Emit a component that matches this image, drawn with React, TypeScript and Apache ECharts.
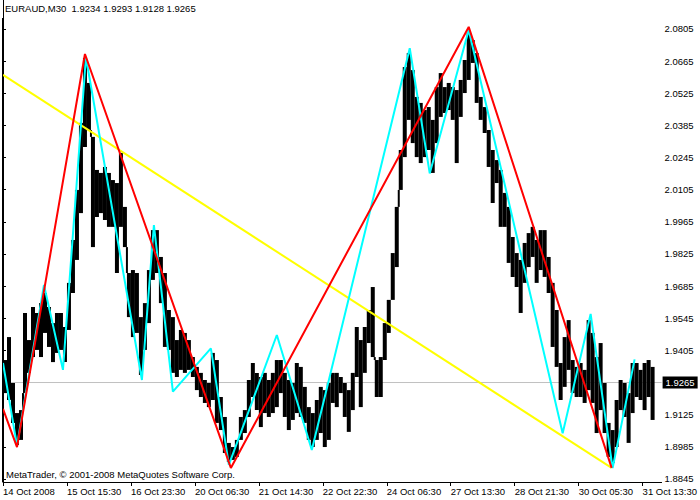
import React, { useEffect, useRef } from "react";
import * as echarts from "echarts";

// ---- data ----
const GROUP = 4; // M30 bars per drawn block
const barHigh = [
  1.9363, 1.9463, 1.9263, 1.9132, 1.9145, 1.9568, 1.945, 1.9594, 1.9568, 1.9611, 1.9655, 1.9594, 1.9524, 1.9568,
  1.9568, 1.9507, 1.9699, 1.9886, 2.0104, 2.0396, 2.0679, 2.057, 2.0335, 2.0191, 2.0178, 2.0204, 2.0178, 2.0147,
  2.0134, 2.0265, 2.003, 1.9742, 1.9755, 1.9742, 1.955, 1.9611, 1.9755, 1.9929, 1.9929, 1.9812, 1.9742, 1.9581,
  1.955, 1.945, 1.9494, 1.9481, 1.945, 1.9376, 1.9333, 1.9307, 1.9276, 1.9263, 1.9394, 1.9363, 1.9202, 1.9115,
  1.9002, 1.8984, 1.9015, 1.9115, 1.9145, 1.9276, 1.935, 1.9307, 1.9289, 1.9307, 1.9276, 1.9307, 1.9363, 1.9363,
  1.9307, 1.9276, 1.9263, 1.935, 1.9333, 1.9246, 1.9158, 1.9132, 1.9189, 1.9246, 1.9232, 1.9263,
  1.9307, 1.9307, 1.9289, 1.9263, 1.9232, 1.9307, 1.9507, 1.945, 1.9507, 1.9581, 1.9681, 1.9363, 1.9376, 1.9524,
  1.9625, 1.9829, 2.003, 2.0278, 2.0639, 2.07, 2.0626, 2.0509, 2.0483, 2.0452, 2.0465, 2.0409, 2.0552, 2.0613,
  2.0552, 2.057, 2.0552, 2.0539, 2.0583, 2.067, 2.0788, 2.0757, 2.07, 2.0509, 2.0465, 2.0365, 2.0278, 2.0234,
  2.0191, 2.0091, 2.003, 1.9899, 1.9829, 1.9799, 1.9873, 1.9916, 1.9943, 1.9886, 1.9929, 1.9929, 1.9812, 1.9699,
  1.9581, 1.935, 1.9463, 1.9537, 1.9363, 1.9333, 1.935, 1.932, 1.9537, 1.9481, 1.9376, 1.9437, 1.9263, 1.9089,
  1.9058, 1.9189, 1.9276, 1.9263, 1.9219, 1.935, 1.935, 1.932, 1.935, 1.9363, 1.9333,
];
const barLow = [
  1.9219, 1.9189, 1.9089, 1.8993, 1.9015, 1.9219, 1.9307, 1.9376, 1.9407, 1.9376, 1.9481, 1.942, 1.9354, 1.9394,
  1.9407, 1.9354, 1.9494, 1.9655, 1.9799, 2.0003, 2.0291, 2.0365, 1.9855, 1.9986, 2.0003, 1.9973, 1.9943, 1.9943,
  1.9742, 1.9943, 1.9855, 1.955, 1.9463, 1.9481, 1.9298, 1.9407, 1.9524, 1.9712, 1.9742, 1.9611, 1.942, 1.9407,
  1.9307, 1.9289, 1.932, 1.9307, 1.932, 1.9289, 1.9232, 1.9202, 1.9176, 1.9158, 1.9189, 1.9089, 1.9058, 1.8958,
  1.8919, 1.8928, 1.8941, 1.9015, 1.9045, 1.9115, 1.9202, 1.9145, 1.9071, 1.9132, 1.9115, 1.9132, 1.9158, 1.9219,
  1.9115, 1.9058, 1.9102, 1.9132, 1.9115, 1.9089, 1.9015, 1.8984, 1.9015, 1.9045, 1.8984, 1.9015,
  1.9176, 1.9158, 1.9219, 1.9115, 1.905, 1.9145, 1.9289, 1.9158, 1.9307, 1.9437, 1.9376, 1.9202, 1.9202, 1.9363,
  1.9481, 1.9625, 1.9768, 2.0104, 2.0247, 2.0409, 2.0308, 2.0247, 2.0221, 2.0247, 2.0278, 2.0178, 2.0308, 2.0422,
  2.0439, 2.0452, 2.0409, 2.0221, 2.0422, 2.0526, 2.0583, 2.0657, 2.0483, 2.0409, 2.0352, 2.0204, 2.0047, 2.0134,
  1.9943, 1.9943, 1.9786, 1.9725, 1.9681, 1.9568, 1.9699, 1.9768, 1.9812, 1.9699, 1.9755, 1.9725, 1.9655, 1.942,
  1.9333, 1.9189, 1.9246, 1.932, 1.9219, 1.9202, 1.9202, 1.9176, 1.9232, 1.9176, 1.9045, 1.9145, 1.9045, 1.8941,
  1.8914, 1.8984, 1.9145, 1.9115, 1.9002, 1.9132, 1.9202, 1.9189, 1.9145, 1.9202, 1.9102,
];
const cyanZigzag: [number, number][] = [
  [0, 1.935], [14, 1.899], [41, 1.969], [60, 1.932], [83, 2.0682], [139, 1.9276], [151, 1.9951], [170, 1.9225],
  [208, 1.9414], [226, 1.8906], [274, 1.9472], [309, 1.8971], [407, 2.0721], [427, 2.0176], [466, 2.0801],
  [560, 1.9044], [588, 1.9564], [610, 1.8892], [632, 1.9366],
];
const redZigzag: [number, number][] = [
  [0, 1.915], [14, 1.8984], [82, 2.0696], [228, 1.8893], [466, 2.0814], [609, 1.8893],
];
const yellowLine: [number, number][] = [[0, 2.0605], [609, 1.8893]];
const timeLabels = [
  "14 Oct 2008", "15 Oct 15:30", "16 Oct 23:30", "20 Oct 06:30", "21 Oct 14:30", "22 Oct 22:30",
  "24 Oct 06:30", "27 Oct 13:30", "28 Oct 21:30", "30 Oct 05:30", "31 Oct 13:30",
];
const TIME_STEP = 64;
const priceTicks = [
  2.0805, 2.0665, 2.0525, 2.0385, 2.0245, 2.0105, 1.9965, 1.9825, 1.9685, 1.9545, 1.9405, 1.9265, 1.9125, 1.8985, 1.8845,
];
const lastClose = 1.9265;
const titleText = "EURAUD,M30\u00a0 1.9234 1.9293 1.9128 1.9265";
const copyrightText = "MetaTrader, © 2001-2008 MetaQuotes Software Corp.";

const FONT = "Liberation Sans";

export default function App() {
  const ref = useRef<HTMLDivElement>(null);
  useEffect(() => {
    const chart = echarts.init(ref.current!, null, { renderer: "svg" });
    const nBars = 660;
    const barData = barHigh.map((h, i) => [i * GROUP, barLow[i], h]);
    const timeTicks = timeLabels.map((_, i) => i * TIME_STEP);
    chart.setOption({
      animation: false,
      backgroundColor: "#ffffff",
      grid: { left: 3, right: 38, top: 0, bottom: 18, containLabel: false },
      xAxis: {
        type: "value",
        min: 0,
        max: nBars - 1,
        axisLine: { show: true, onZero: false, lineStyle: { color: "#000", width: 1 } },
        splitLine: { show: false },
        axisTick: { show: true, length: 4, customValues: timeTicks, lineStyle: { color: "#000" } },
        axisLabel: {
          customValues: timeTicks,
          formatter: (v: number) => timeLabels[Math.round(v / TIME_STEP)] ?? "",
          align: "left",
          margin: 4,
          color: "#000",
          fontFamily: FONT,
          fontSize: 9.5,
        },
      },
      yAxis: {
        type: "value",
        position: "right",
        min: 1.88317,
        max: 2.09313,
        axisLine: { show: true, lineStyle: { color: "#000", width: 1 } },
        splitLine: { show: false },
        axisTick: { show: true, length: 3, customValues: priceTicks, lineStyle: { color: "#000" } },
        axisLabel: {
          customValues: priceTicks.filter((p) => p !== lastClose),
          formatter: (v: number) => v.toFixed(4),
          margin: 3,
          color: "#000",
          fontFamily: FONT,
          fontSize: 9.5,
        },
      },
      series: [
        {
          type: "line",
          name: "last",
          data: [[0, lastClose], [nBars - 1, lastClose]],
          showSymbol: false,
          lineStyle: { color: "#c0c0c0", width: 1 },
          z: 1,
          endLabel: {
            show: true,
            formatter: () => lastClose.toFixed(4),
            backgroundColor: "#000",
            color: "#fff",
            fontFamily: FONT,
            fontSize: 9.5,
            padding: [1, 3, 1, 3],
            distance: 1,
          },
        },
        {
          type: "custom",
          name: "bars",
          data: barData,
          encode: { x: 0, y: [1, 2] },
          z: 2,
          renderItem: (params: any, api: any) => {
            const i = params.dataIndex;
            const x = api.value(0);
            const hi = api.value(2);
            const lo = api.value(1);
            const p0 = api.coord([x, hi]);
            const p1 = api.coord([x + GROUP, lo]);
            const children: any[] = [
              {
                type: "rect",
                shape: { x: p0[0], y: p0[1], width: p1[0] - p0[0], height: Math.max(1, p1[1] - p0[1]) },
                style: { fill: "#000" },
              },
            ];
            if (i + 1 < barHigh.length) {
              const nHi = barHigh[i + 1];
              const nLo = barLow[i + 1];
              let a: number | null = null;
              let b: number | null = null;
              if (nLo > hi) { a = hi; b = nLo; }
              else if (nHi < lo) { a = nHi; b = lo; }
              if (a !== null && b !== null) {
                const q0 = api.coord([x + GROUP, b]);
                const q1 = api.coord([x + GROUP, a]);
                children.push({
                  type: "rect",
                  shape: { x: q0[0] - 1, y: q0[1], width: 2, height: q1[1] - q0[1] },
                  style: { fill: "#000" },
                });
              }
            }
            return { type: "group", children };
          },
        },
        {
          type: "line",
          name: "trend",
          data: yellowLine,
          showSymbol: false,
          lineStyle: { color: "#ffff00", width: 2 },
          z: 3,
        },
        {
          type: "line",
          name: "zigzag small",
          data: cyanZigzag,
          showSymbol: false,
          lineStyle: { color: "#00ffff", width: 2 },
          z: 4,
        },
        {
          type: "line",
          name: "zigzag big",
          data: redZigzag,
          showSymbol: false,
          lineStyle: { color: "#ff0000", width: 2 },
          z: 5,
        },
      ],
      graphic: [
        { type: "line", shape: { x1: 2.5, y1: 18, x2: 2.5, y2: 482 }, style: { stroke: "#000", lineWidth: 1 }, z: 10 },
        {
          type: "text",
          left: 5,
          top: 3,
          style: { text: titleText, fill: "#000", font: `9.5px "${FONT}"` },
          z: 10,
        },
        {
          type: "text",
          left: 6,
          top: 469,
          style: { text: copyrightText, fill: "#000", font: `9.5px "${FONT}"` },
          z: 10,
        },
      ],
    });
    return () => chart.dispose();
  }, []);
  return <div ref={ref} style={{ position: "fixed", left: 0, top: 0, width: 700, height: 500 }} />;
}
